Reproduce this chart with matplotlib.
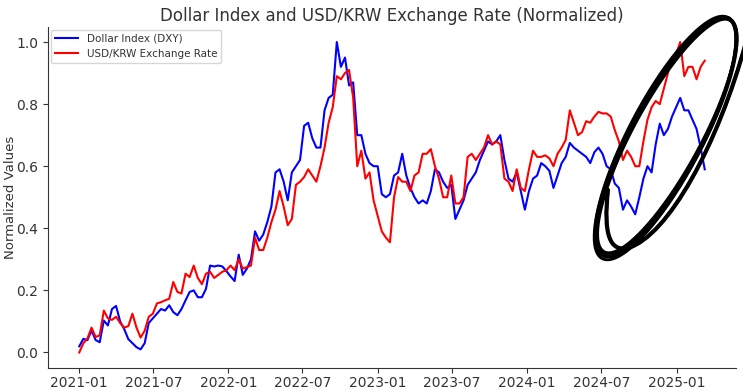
import numpy as np
import pandas as pd
import matplotlib
matplotlib.use("Agg")
import matplotlib.pyplot as plt
import matplotlib.dates as mdates
from matplotlib.path import Path
from matplotlib.patches import PathPatch

# ---- data (sampled every 10 days from 2021-01-01) ----
start_date = "2021-01-01"
step = "10D"

dxy = [0.02, 0.044, 0.04, 0.071, 0.04, 0.033, 0.103, 0.087, 0.14, 0.15,
       0.10, 0.075, 0.043, 0.03, 0.017, 0.01, 0.03, 0.095, 0.11, 0.125,
       0.14, 0.135, 0.152, 0.13, 0.12, 0.14, 0.168, 0.195, 0.2, 0.178,
       0.178, 0.205, 0.28, 0.277, 0.28, 0.277, 0.262, 0.245, 0.23, 0.315,
       0.25, 0.27, 0.30, 0.39, 0.36, 0.38, 0.42, 0.47, 0.58, 0.59,
       0.55, 0.49, 0.58, 0.60, 0.62, 0.73, 0.74, 0.69, 0.66, 0.66,
       0.78, 0.82, 0.83, 1.0, 0.92, 0.95, 0.86, 0.87, 0.70, 0.70,
       0.64, 0.61, 0.60, 0.60, 0.51, 0.50, 0.51, 0.57, 0.58, 0.64,
       0.57, 0.53, 0.50, 0.48, 0.49, 0.48, 0.52, 0.59, 0.58, 0.55,
       0.53, 0.54, 0.43, 0.46, 0.49, 0.54, 0.56, 0.58, 0.62, 0.65,
       0.68, 0.67, 0.68, 0.70, 0.62, 0.56, 0.55, 0.58, 0.52, 0.46,
       0.52, 0.56, 0.57, 0.61, 0.60, 0.585, 0.53, 0.57, 0.61, 0.63,
       0.675, 0.66, 0.65, 0.64, 0.63, 0.61, 0.645, 0.66, 0.64, 0.60,
       0.59, 0.544, 0.53, 0.46, 0.49, 0.47, 0.445, 0.50, 0.56, 0.60,
       0.58, 0.67, 0.737, 0.70, 0.72, 0.76, 0.79, 0.82, 0.78, 0.78,
       0.75, 0.72, 0.66, 0.59]

krw = [0.0, 0.03, 0.045, 0.08, 0.05, 0.055, 0.135, 0.11, 0.105, 0.115,
       0.095, 0.08, 0.085, 0.125, 0.08, 0.048, 0.07, 0.115, 0.125, 0.158,
       0.162, 0.168, 0.173, 0.227, 0.195, 0.19, 0.254, 0.243, 0.28, 0.24,
       0.22, 0.254, 0.26, 0.24, 0.25, 0.26, 0.265, 0.28, 0.265, 0.30,
       0.27, 0.275, 0.28, 0.37, 0.33, 0.33, 0.37, 0.42, 0.46, 0.52,
       0.47, 0.41, 0.43, 0.54, 0.55, 0.565, 0.59, 0.57, 0.55, 0.60,
       0.66, 0.74, 0.79, 0.89, 0.88, 0.90, 0.91, 0.82, 0.60, 0.65,
       0.56, 0.58, 0.49, 0.44, 0.39, 0.37, 0.355, 0.50, 0.565, 0.55,
       0.55, 0.52, 0.57, 0.58, 0.64, 0.64, 0.655, 0.60, 0.56, 0.50,
       0.50, 0.57, 0.48, 0.48, 0.50, 0.63, 0.64, 0.62, 0.64, 0.66,
       0.70, 0.67, 0.68, 0.67, 0.56, 0.55, 0.52, 0.59, 0.53, 0.52,
       0.59, 0.65, 0.63, 0.63, 0.635, 0.625, 0.60, 0.64, 0.66, 0.685,
       0.78, 0.74, 0.70, 0.71, 0.745, 0.74, 0.76, 0.775, 0.77, 0.77,
       0.76, 0.716, 0.68, 0.62, 0.65, 0.63, 0.60, 0.60, 0.68, 0.75,
       0.79, 0.81, 0.80, 0.85, 0.90, 0.95, 0.96, 1.0, 0.89, 0.92,
       0.92, 0.88, 0.92, 0.94]

series_labels = ["Dollar Index (DXY)", "USD/KRW Exchange Rate"]
title = "Dollar Index and USD/KRW Exchange Rate (Normalized)"
ylabel = "Normalized Values"

dates = pd.date_range(start_date, periods=len(dxy), freq=step)

# ---- figure ----
W, H = 743, 391
fig = plt.figure(figsize=(W / 100, H / 100), dpi=100)
ax = fig.add_axes([48 / W, 23 / H, (736 - 48) / W, (368 - 26.5) / H])

ax.plot(dates, dxy, color="blue", lw=1.5, label=series_labels[0])
ax.plot(dates, krw, color="red", lw=1.5, label=series_labels[1])

ax.xaxis.set_major_locator(mdates.MonthLocator(bymonth=[1, 7]))
ax.xaxis.set_major_formatter(mdates.DateFormatter("%Y-%m"))
ax.set_yticks([0.0, 0.2, 0.4, 0.6, 0.8, 1.0])

txt = "#333333"
ax.set_title(title, fontsize=12, color=txt, pad=4)
ax.set_ylabel(ylabel, fontsize=9.5, color=txt)
ax.yaxis.set_label_coords(-0.045, 0.5)
ax.tick_params(colors=txt, labelsize=10, labelcolor=txt)
ax.tick_params(axis="x", pad=2.5)
for s in ["top", "right"]:
    ax.spines[s].set_visible(False)
for s in ["left", "bottom"]:
    ax.spines[s].set_color(txt)

leg = ax.legend(loc="upper left", fontsize=7.5, frameon=True, labelcolor=txt,
                borderaxespad=0.3, handlelength=2.2)
leg.get_frame().set_edgecolor("#cccccc")

# ---- hand-drawn annotation (pixel coordinates, y downward) ----
ov = fig.add_axes([0, 0, 1, 1], facecolor="none")
ov.set_xlim(0, W)
ov.set_ylim(H, 0)
ov.axis("off")

def ellipse_pts(cx, cy, a, b, phi_deg, t0=0, t1=2 * np.pi, n=400):
    phi = np.deg2rad(phi_deg)
    t = np.linspace(t0, t1, n)
    u = np.array([np.cos(phi), -np.sin(phi)])
    v = np.array([np.sin(phi), np.cos(phi)])
    x = cx + a * np.cos(t) * u[0] + b * np.sin(t) * v[0]
    y = cy + a * np.cos(t) * u[1] + b * np.sin(t) * v[1]
    return x, y

for (cx, cy, a, b, ph, lw) in [(666, 137, 134, 36, 62.0, 3.0),
                               (667, 136, 132, 34, 61.5, 2.5),
                               (665, 138, 136, 37, 62.5, 2.0)]:
    x, y = ellipse_pts(cx, cy, a, b, ph)
    ov.plot(x, y, color="black", lw=lw, solid_capstyle="round")

verts = [(608, 190), (603, 235), (610, 252), (628, 248),
         (668, 236), (718, 145), (746, 42)]
codes = [Path.MOVETO, Path.CURVE4, Path.CURVE4, Path.CURVE4,
         Path.CURVE4, Path.CURVE4, Path.CURVE4]
for lw in (3.0, 2.2):
    ov.add_patch(PathPatch(Path(verts, codes), facecolor="none",
                           edgecolor="black", lw=lw, capstyle="round"))

fig.savefig("out.png", dpi=100)
